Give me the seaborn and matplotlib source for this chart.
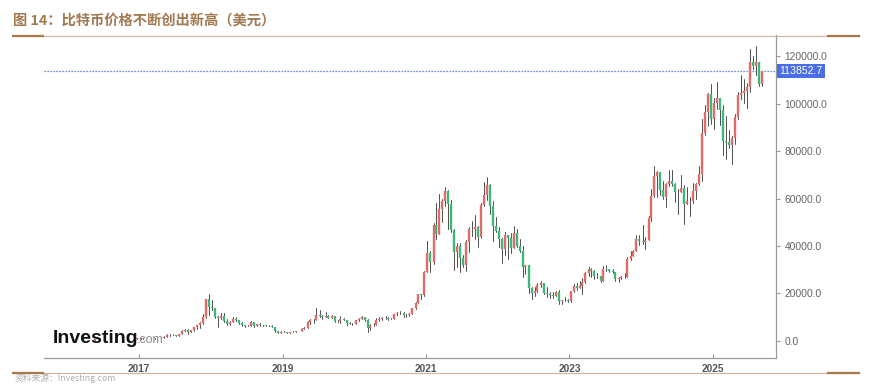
import numpy as np
import pandas as pd
import matplotlib
matplotlib.use("Agg")
import matplotlib.pyplot as plt
from matplotlib.lines import Line2D
import seaborn as sns

# ---------------- data (half-month candles, USD) ----------------
start_date = "2015-09-01"
first_open = 230

close_2015 = [230, 236, 254, 314, 320, 378, 455, 430]
high_2015 = [240, 240, 256, 335, 500, 380, 470, 470]
low_2015 = [225, 226, 235, 260, 310, 310, 350, 410]

close_2016 = [390, 370, 400, 437, 415, 416, 430, 448, 458, 530, 690, 673,
              665, 624, 568, 575, 607, 609, 640, 700, 710, 742, 778, 963]
high_2016 = [460, 410, 410, 445, 440, 420, 432, 465, 465, 550, 700, 780,
             700, 680, 630, 590, 615, 612, 645, 720, 750, 750, 785, 975]
low_2016 = [370, 365, 365, 400, 400, 405, 412, 430, 440, 440, 530, 600,
            630, 620, 480, 560, 570, 590, 605, 630, 680, 700, 740, 780]

close_2017 = [820, 965, 1000, 1190, 1250, 1070, 1180, 1350, 1720, 2300, 2450, 2480,
              1920, 2860, 4200, 4700, 3700, 4340, 5700, 6450, 7300, 9900, 17600, 14150]
high_2017 = [1150, 970, 1030, 1210, 1300, 1255, 1220, 1350, 1850, 2760, 2980, 2780,
             2600, 2900, 4400, 4750, 4950, 4400, 5850, 6500, 7900, 11400, 17800, 19800]
low_2017 = [750, 800, 940, 1000, 1000, 890, 1050, 1170, 1350, 1800, 2100, 2380,
            1850, 1840, 2700, 3950, 2980, 3500, 4150, 5100, 5500, 7200, 9700, 10900]

close_2018 = [13600, 10200, 9450, 10300, 8200, 6900, 8000, 9250, 8700, 7500, 6450, 6400,
              6300, 7750, 6200, 7000, 6500, 6620, 6400, 6300, 5700, 4000, 3250, 3700]
high_2018 = [17250, 13700, 10300, 11800, 11600, 9200, 8400, 9800, 9950, 8750, 7750, 6800,
             6800, 8500, 7750, 7150, 7400, 6800, 6700, 6550, 6550, 5700, 4300, 4200]
low_2018 = [12800, 9400, 5950, 9300, 7800, 6500, 6450, 8000, 8350, 7050, 6300, 5800,
            6100, 6250, 5900, 6200, 6150, 6250, 6150, 6250, 5600, 3500, 3200, 3250]

close_2019 = [3600, 3450, 3600, 3800, 3900, 4100, 5100, 5300, 8000, 8600, 8700, 10800,
              10400, 10100, 10300, 9600, 10350, 8300, 8350, 9150, 8650, 7550, 7100, 7200]
high_2019 = [4100, 3700, 3700, 4200, 3950, 4150, 5450, 5650, 8300, 9000, 9000, 13800,
             13000, 10900, 12300, 10950, 10900, 10400, 8700, 10500, 9500, 8700, 7800, 7500]
low_2019 = [3500, 3400, 3350, 3600, 3700, 3900, 4100, 5050, 5250, 6900, 7450, 8700,
            9800, 9100, 9950, 9400, 9550, 7750, 7900, 7350, 8600, 6500, 7050, 6450]

close_2020 = [8800, 9350, 9900, 8550, 5400, 6450, 6650, 8650, 9300, 9450, 9450, 9150,
              9250, 11350, 11900, 11650, 10800, 10800, 11450, 13800, 15950, 19700, 19250, 29000]
high_2020 = [8900, 9550, 10500, 10200, 9200, 6950, 7450, 9450, 9950, 9950, 10350, 9800,
             9400, 11450, 12100, 12450, 12100, 11200, 11700, 14000, 16350, 19850, 19900, 29300]
low_2020 = [6900, 8250, 9300, 8450, 3850, 4450, 6150, 6800, 8150, 8700, 8950, 8850,
            9000, 9100, 10650, 11150, 9900, 10200, 10400, 11250, 13200, 15800, 17600, 19000]

close_2021 = [36800, 33100, 48700, 45150, 55600, 58900, 63200, 57750, 46750, 37300, 40150, 35050,
              31800, 41450, 47100, 47150, 48150, 43800, 57300, 61350, 65500, 57000, 48400, 46300]
high_2021 = [41950, 38000, 49700, 58300, 61700, 60000, 64850, 63500, 59500, 47000, 41300, 41300,
             36000, 42300, 48100, 50500, 52900, 48500, 58000, 67000, 69000, 66000, 59000, 52100]
low_2021 = [28950, 28800, 32300, 43000, 44950, 50300, 57000, 47000, 46000, 30000, 31000, 28800,
            31100, 29300, 37600, 44200, 42800, 39600, 43300, 57000, 59500, 53300, 42000, 45700]

close_2022 = [43100, 38500, 44600, 43200, 39300, 45500, 39950, 37650, 31300, 31800, 22150, 19950,
              20850, 23300, 24150, 20050, 19800, 19400, 19050, 20500, 16850, 17150, 17350, 16550]
high_2022 = [47900, 43500, 45800, 44700, 45400, 48200, 47200, 42900, 40000, 31950, 31900, 22500,
             22500, 24250, 25200, 24450, 22800, 20400, 20450, 20900, 21450, 17250, 18350, 17400]
low_2022 = [39700, 32950, 36300, 34350, 37200, 39000, 39500, 37600, 26700, 28000, 20100, 17600,
            18950, 20750, 22700, 19550, 18550, 18150, 18200, 18700, 15600, 15500, 16800, 16350]

close_2023 = [20900, 23150, 22200, 23150, 24750, 28450, 30450, 29250, 27200, 27200, 25100, 30450,
              30300, 29250, 29150, 25950, 26600, 27000, 26850, 34650, 35550, 37700, 43000, 42250]
high_2023 = [21100, 23900, 24250, 25250, 26500, 29150, 31000, 30500, 29800, 28400, 27300, 31400,
             31800, 30400, 30250, 29200, 26900, 27500, 28600, 35200, 37950, 38450, 44700, 44400]
low_2023 = [16500, 20450, 21450, 22700, 19550, 24200, 27200, 27050, 26000, 26350, 24800, 25150,
            29600, 28900, 28700, 25200, 24900, 26000, 26550, 26800, 34100, 35600, 37650, 40500]

close_2024 = [41750, 42600, 51900, 61200, 69500, 71300, 63400, 60650, 66200, 67500, 66000, 62700,
              62900, 64600, 57500, 58950, 59150, 63300, 66000, 70200, 87600, 96400, 104300, 93400]
high_2024 = [48950, 43600, 52800, 64000, 73800, 71500, 71300, 67200, 66400, 72000, 71900, 66500,
             64100, 70000, 65600, 65000, 60600, 66500, 66500, 73600, 93500, 99600, 104500, 108300]
low_2024 = [40750, 38500, 42300, 50600, 60800, 60800, 61500, 59700, 56550, 65400, 65100, 58500,
            53500, 62850, 49100, 57800, 52600, 58300, 59900, 65500, 67500, 87000, 90500, 91500]

close_2025 = [100500, 102400, 97500, 84400, 84000, 82500, 85600, 94200, 103600, 104600, 105500,
              107100, 117800, 115800, 117400, 108200, 113852.7]
high_2025 = [102500, 109300, 102500, 99500, 95000, 88800, 86300, 95700, 105000, 112000, 110600,
             108700, 123200, 120200, 124450, 117600, 114000]
low_2025 = [89300, 97900, 91200, 78200, 76600, 81200, 74500, 83200, 93600, 102200, 100400,
            98200, 105100, 114700, 112000, 107300, 107300]

last_price = 113852.7
y_ticks = [0, 20000, 40000, 60000, 80000, 100000, 120000]
x_tick_years = [2017, 2019, 2021, 2023, 2025]
title = "图 14：比特币价格不断创出新高（美元）"
source = "资料来源：Investing.com"

# ---------------- assemble ----------------
closes = np.array(close_2015 + close_2016 + close_2017 + close_2018 + close_2019 +
                  close_2020 + close_2021 + close_2022 + close_2023 + close_2024 + close_2025, float)
highs = np.array(high_2015 + high_2016 + high_2017 + high_2018 + high_2019 +
                 high_2020 + high_2021 + high_2022 + high_2023 + high_2024 + high_2025, float)
lows = np.array(low_2015 + low_2016 + low_2017 + low_2018 + low_2019 +
                low_2020 + low_2021 + low_2022 + low_2023 + low_2024 + low_2025, float)
opens = np.concatenate([[first_open], closes[:-1]])
n = len(closes)
dates = pd.date_range(start_date, periods=n, freq="SMS") + pd.Timedelta(days=7)
xdec = dates.year + (dates.dayofyear - 1) / np.where(dates.is_leap_year, 366, 365)
xdec = np.asarray(xdec, float)
hi = np.maximum.reduce([highs, opens, closes])
lo = np.minimum.reduce([lows, opens, closes])
direction = np.where(closes >= opens, "up", "down")

ids = np.arange(n)
wick_df = pd.DataFrame({"x": np.repeat(xdec, 2), "y": np.column_stack([lo, hi]).ravel(),
                        "id": np.repeat(ids, 2)})
body_df = pd.DataFrame({"x": np.repeat(xdec, 2), "y": np.column_stack([opens, closes]).ravel(),
                        "id": np.repeat(ids, 2), "dir": np.repeat(direction, 2)})

# ---------------- style ----------------
sns.set_theme(style="white")
plt.rcParams["font.family"] = ["Liberation Sans", "Noto Sans CJK SC", "DejaVu Sans"]

W, H = 877, 384
fig = plt.figure(figsize=(W / 100, H / 100), dpi=100)
fig.patch.set_facecolor("white")
ax_l, ax_r, ax_t, ax_b = 44, 776, 35, 358
ax = fig.add_axes([ax_l / W, 1 - ax_b / H, (ax_r - ax_l) / W, (ax_b - ax_t) / H])
ax.set_facecolor("white")

sns.lineplot(data=wick_df, x="x", y="y", units="id", estimator=None, sort=False,
             color="#505050", lw=0.7, ax=ax, legend=False)
sns.lineplot(data=body_df, x="x", y="y", units="id", estimator=None, sort=False,
             hue="dir", palette={"up": "#e36a6a", "down": "#3fb77a"},
             lw=1.7, ax=ax, legend=False, solid_capstyle="butt")

ax.set_xlim(2015.671, 2025.880)
ax.set_ylim(-7300, 129000)

ax.axhline(last_price, color="#3f63dc", lw=0.9, ls=(0, (1, 1.4)), zorder=1)
ax.annotate(f"{last_price:.1f}", xy=(1, last_price), xycoords=("axes fraction", "data"),
            xytext=(2.6, 0), textcoords="offset points", ha="left", va="center",
            fontsize=7.6, color="white", annotation_clip=False,
            bbox=dict(boxstyle="square,pad=0.22", fc="#4a6ee6", ec="none"))

sns.despine(ax=ax, left=True, top=True, right=False, bottom=False)
for s in ("right", "bottom"):
    ax.spines[s].set_color("#9a9a9a")
    ax.spines[s].set_linewidth(0.9)

ax.yaxis.tick_right()
ax.set_yticks(y_ticks)
ax.set_yticklabels([f"{v:.1f}" for v in y_ticks])
ax.tick_params(axis="y", which="both", left=False, right=True, labelleft=False, labelright=True,
               direction="out", length=3, width=0.8, color="#9a9a9a", pad=3,
               labelsize=7.4, labelcolor="#666666")
ax.set_xticks(x_tick_years)
ax.set_xticklabels([str(y) for y in x_tick_years], fontweight="bold")
ax.tick_params(axis="x", bottom=True, direction="in", length=3, width=0.8, color="#9a9a9a",
               pad=4, labelsize=7.2, labelcolor="#555555")
ax.set_xlabel("")
ax.set_ylabel("")
ax.grid(False)

# watermark
fig.text(53 / W, 1 - 343 / H, "Investing", fontsize=14, fontweight="bold", color="#111111",
         family=["Liberation Sans", "DejaVu Sans"], va="baseline", ha="left", zorder=10)
fig.text(137 / W, 1 - 343 / H, ".com", fontsize=9, color="#8a8a8a",
         family=["Liberation Sans", "DejaVu Sans"], va="baseline", ha="left", zorder=10)

# title and decorative rules
fig.text(13 / W, 1 - 21 / H, title, fontsize=10.3, fontweight="bold", color="#a27a52",
         family=["Noto Sans CJK SC", "DejaVu Sans"], va="center", ha="left")


def hline(y, x0, x1, color, lw):
    fig.add_artist(Line2D([x0 / W, x1 / W], [1 - y / H, 1 - y / H], color=color, lw=lw,
                          solid_capstyle="butt", transform=fig.transFigure))


for yy in (35.5, 373):
    hline(yy, 12, 860, "#d2b49a", 0.8)
    hline(yy, 12, 44, "#a8784a", 1.6)
    hline(yy, 827, 860, "#a8784a", 1.6)

fig.text(15 / W, 1 - 383 / H, source, fontsize=6.3, color="#b0b0b0",
         family=["Noto Sans CJK SC", "DejaVu Sans"], va="bottom", ha="left")

fig.savefig("out.png", dpi=100, facecolor="white")
